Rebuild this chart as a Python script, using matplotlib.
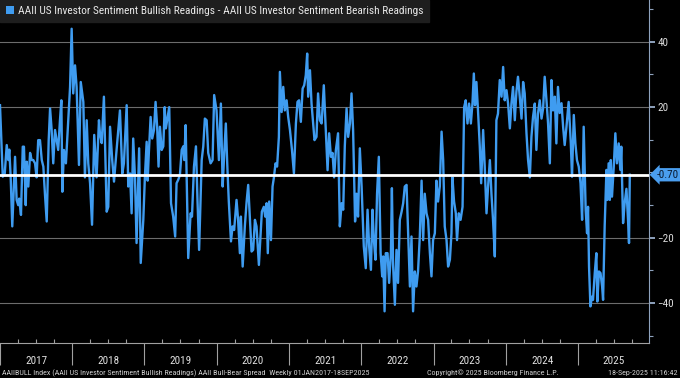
import matplotlib
matplotlib.use("Agg")
import matplotlib.pyplot as plt
import matplotlib.dates as mdates
import matplotlib.transforms as mtransforms
from matplotlib.patches import Patch
from matplotlib import font_manager
import pandas as pd

# weekly AAII bull-bear spread (days since 1 Jan 2017, spread in pts)
start = pd.Timestamp("2017-01-01")
day_offsets = [
    0, 14, 24, 34, 42, 47, 54, 62, 76, 84, 92, 97, 106, 115, 121, 130, 135, 143, 152, 160,
    168, 177, 185, 193, 202, 211, 219, 227, 236, 246, 253, 261, 269, 278, 286, 294, 303, 310, 315, 323,
    333, 345, 354, 362, 370, 379, 387, 399, 408, 421, 429, 438, 446, 455, 465, 476, 488, 500, 505, 514,
    525, 539, 547, 556, 567, 576, 589, 606, 618, 626, 640, 648, 657, 665, 673, 682, 690, 703, 711, 724,
    732, 741, 746, 752, 761, 769, 778, 786, 794, 801, 808, 817, 825, 832, 838, 847, 855, 864, 875, 885,
    892, 900, 909, 918, 926, 931, 938, 946, 951, 963, 970, 980, 990, 998, 1006, 1019, 1027, 1035, 1044, 1052,
    1064, 1074, 1082, 1094, 1106, 1116, 1125, 1133, 1141, 1148, 1156, 1167, 1175, 1183, 1195, 1203, 1212, 1217, 1226, 1237,
    1246, 1254, 1263, 1271, 1279, 1288, 1296, 1308, 1317, 1323, 1333, 1340, 1347, 1353, 1360, 1369, 1377, 1384, 1392, 1400,
    1409, 1414, 1423, 1431, 1439, 1448, 1456, 1465, 1475, 1485, 1495, 1503, 1511, 1520, 1529, 1537, 1545, 1552, 1557, 1566,
    1574, 1582, 1589, 1599, 1607, 1616, 1625, 1636, 1646, 1655, 1663, 1672, 1680, 1688, 1697, 1708, 1717, 1726, 1734, 1742,
    1751, 1759, 1768, 1776, 1784, 1794, 1801, 1809, 1818, 1827, 1838, 1848, 1857, 1865, 1874, 1882, 1889, 1897, 1905, 1914,
    1923, 1931, 1936, 1943, 1949, 1958, 1966, 1975, 1980, 1986, 1995, 2003, 2011, 2020, 2029, 2037, 2045, 2054, 2062, 2071,
    2079, 2087, 2096, 2104, 2112, 2121, 2130, 2138, 2146, 2155, 2163, 2172, 2180, 2188, 2197, 2205, 2213, 2222, 2231, 2239,
    2247, 2256, 2264, 2273, 2281, 2286, 2294, 2303, 2309, 2318, 2327, 2337, 2345, 2353, 2362, 2370, 2379, 2387, 2394, 2400,
    2407, 2415, 2424, 2431, 2441, 2449, 2458, 2466, 2475, 2483, 2491, 2500, 2508, 2516, 2525, 2534, 2542, 2550, 2559, 2567,
    2576, 2584, 2592, 2601, 2609, 2617, 2626, 2635, 2643, 2651, 2660, 2668, 2677, 2685, 2693, 2702, 2710, 2718, 2727, 2736,
    2744, 2752, 2761, 2769, 2778, 2786, 2794, 2803, 2811, 2819, 2828, 2837, 2845, 2853, 2862, 2873, 2884, 2890, 2899, 2907,
    2915, 2924, 2933, 2941, 2949, 2959, 2966, 2971, 2976, 2983, 2991, 2996, 3005, 3013, 3018, 3026, 3034, 3042, 3047, 3055,
    3064, 3069, 3075, 3081, 3086, 3092, 3101, 3109, 3117, 3126, 3134, 3139, 3148, 3156, 3165, 3173, 3178, 3182,
]
spread = [
    20.6, -1.3, -0.3, 8.4, 3.8, 7.0, -1.5, -16.5, 4.8, -8.4, -10.0, -8.0, -13.0, 7.9, 7.9, -10.0, 3.3, -4.3, 6.0, 3.8,
    3.8, 2.8, -1.5, 9.9, 9.9, 3.8, 1.8, -6.5, -15.0, 9.9, 19.6, 13.0, 2.8, 13.0, 9.9, 6.9, 16.0, 22.1, -5.9, 6.9,
    2.8, 16.0, 26.2, 44.0, 24.2, 32.8, 26.2, 2.3, 27.7, 21.6, -1.5, 16.0, 2.8, -3.3, -16.0, 11.5, -1.5, 16.0, 12.0, 9.0,
    23.2, -12.0, -10.5, 14.0, 3.8, -2.8, 6.9, 19.0, -0.3, 2.8, 20.6, -4.3, -0.3, -12.5, 10.4, -1.5, -21.6, 7.4, -27.7, -14.5,
    -1.5, 9.4, -2.5, 6.0, 17.0, 10.4, 13.0, 21.6, 14.0, 1.8, 14.0, 6.9, 8.0, 20.0, 13.5, 17.0, 20.0, -9.4, -13.5, -19.6,
    -3.3, -2.3, -0.8, 6.9, 8.0, 3.8, 14.5, -10.5, -26.2, -12.5, -13.5, 1.8, 8.0, -8.9, -23.7, 3.8, 8.0, 16.5, 16.0, 6.0,
    2.8, 3.8, 23.7, 19.0, 3.8, 21.1, -4.3, 6.0, 15.0, 2.8, -8.9, -21.1, -16.5, -17.6, -8.4, -14.5, -24.7, -13.5, -28.8, -16.5,
    -8.9, -3.8, -14.5, -24.2, -23.7, -14.5, -16.5, -28.3, -18.6, -12.0, -10.5, -13.5, -9.4, -24.7, -8.9, -20.7, -4.3, -1.5, 2.8, 1.8,
    10.9, 30.8, 18.5, 26.2, 19.0, 22.1, 17.0, 13.0, 7.0, -0.3, 15.0, 21.6, 22.1, 15.5, 25.7, 26.7, 29.8, 36.4, 23.2, 31.3,
    21.1, 15.0, 9.9, 10.9, 24.2, 16.0, 15.0, 26.7, 13.0, 0.7, 12.0, 4.8, 6.0, -1.5, 6.9, 12.0, -16.5, -9.4, -11.4, 8.0,
    19.6, 10.9, 15.0, 24.2, 13.0, -15.0, -6.5, -13.5, 7.4, -4.3, -22.6, -29.3, -11.4, -22.6, -29.8, -11.4, -20.7, -26.7, -6.5, 4.8,
    -24.7, -31.8, -25.7, -42.5, -24.7, -24.7, -33.8, -24.7, -4.8, -28.3, -40.5, -23.7, -33.8, -14.5, -12.0, -9.4, -4.3, -3.8, -18.6, -34.9,
    -19.6, -42.5, -30.3, -34.9, -30.3, -19.6, -2.5, -20.7, -6.5, -12.5, -14.5, -24.7, -31.8, -20.7, -18.6, -2.5, -8.9, -4.3, 12.5, 3.8,
    -16.5, -20.7, -28.8, -26.7, -18.6, -1.5, -8.9, -12.5, -20.7, -12.5, -14.5, -10.5, 20.0, 22.1, 15.0, 21.1, 15.0, 21.1, 30.3, 20.6,
    27.7, 19.0, 8.0, -3.3, 13.0, 1.8, -12.5, -4.3, 3.8, -6.5, -14.5, -25.7, 16.0, 18.0, 28.3, 23.2, 32.3, 22.1, 25.2, 21.1,
    13.5, 21.1, 26.2, 16.0, 24.7, 29.3, 23.2, 16.5, 27.7, 24.2, 12.0, 3.8, -1.5, 10.9, 17.0, 21.1, 6.9, 18.0, 22.1, 16.5,
    19.6, 29.3, 22.1, 15.0, 2.8, 28.3, 19.0, 23.2, 8.9, 26.2, 18.2, 21.2, 14.0, 8.4, 14.0, 21.6, 8.9, -1.3, 17.6, 8.9,
    3.8, 1.8, -3.3, -14.5, 14.0, -11.4, -18.6, -10.5, -28.8, -41.0, -38.0, -39.0, -30.8, -24.7, -39.5, -30.3, -30.8, -34.8, -39.0, -16.5,
    0.8, -8.4, 2.8, -8.4, 3.8, -7.4, 1.8, 12.0, 2.8, 8.9, 0.8, 7.9, -15.5, -9.4, -5.0, -14.5, -21.6, -0.7,
]
last_value = -0.70
years = list(range(2017, 2026))
yticks_major = [-40, -20, 20, 40]
yticks_minor = [-50, -30, -10, 0, 10, 30, 50]

legend_text = "AAII US Investor Sentiment Bullish Readings - AAII US Investor Sentiment Bearish Readings"
footer_left = ("AAIIBULL Index (AAII US Investor Sentiment Bullish Readings) AAII Bull-Bear Spread  "
               "Weekly 01JAN2017-18SEP2025")
footer_mid = "Copyright\u00a9 2025 Bloomberg Finance L.P."
footer_right = "18-Sep-2025 11:16:42"

installed = {f.name for f in font_manager.fontManager.ttflist}
for fam in ["Liberation Sans Narrow", "Roboto Condensed", "Liberation Sans"]:
    if fam in installed:
        break
plt.rcParams["font.family"] = [fam, "DejaVu Sans"]

line_blue = "#3f9cf0"
dates = start + pd.to_timedelta(day_offsets, unit="D")
x_end = pd.Timestamp("2025-12-24")

fig = plt.figure(figsize=(6.8, 3.78), dpi=100, facecolor="black")
ax = fig.add_axes([0.0, 35 / 378, 649 / 680, 343 / 378])
ax.set_facecolor("black")

ax.plot(dates, spread, color=line_blue, lw=1.7, zorder=2)
ax.axhline(last_value, color="white", lw=2.0, zorder=3)

ax.set_xlim(start, x_end)
ax.set_ylim(-52.2, 52.8)

for s in ["left", "top"]:
    ax.spines[s].set_visible(False)
ax.spines["right"].set_color("#8ea2bd")
ax.spines["bottom"].set_color("#a0a0a0")

ax.yaxis.tick_right()
ax.set_yticks(yticks_major)
ax.set_yticks(yticks_minor, minor=True)
ax.grid(axis="y", which="major", color="#6c6c6c", lw=0.8, zorder=1)
ax.tick_params(axis="y", which="major", colors="#8ea2bd", labelcolor="#dcdcdc",
               direction="out", length=4, width=1.4, labelsize=8, pad=2)
ax.tick_params(axis="y", which="minor", colors="#8ea2bd", direction="out", length=3, width=0.8)

ax.xaxis.set_major_locator(mdates.YearLocator())
ax.xaxis.set_minor_locator(mdates.MonthLocator(bymonth=[4, 7, 10]))
ax.xaxis.set_major_formatter(plt.NullFormatter())
ax.tick_params(axis="x", which="major", colors="#a0a0a0", direction="out", length=16, width=0.8)
ax.tick_params(axis="x", which="minor", colors="#a0a0a0", direction="in", length=3, width=0.8)

# year labels centred in each (visible) year
trans = mtransforms.blended_transform_factory(ax.transData, ax.transAxes)
for yr in years:
    a = pd.Timestamp(f"{yr}-01-01")
    b = min(pd.Timestamp(f"{yr + 1}-01-01"), x_end)
    mid = a + (b - a) / 2
    ax.text(mid, -0.052, str(yr), transform=trans, ha="center", va="center",
            color="#e0e0e0", fontsize=8)

# last value tag on the right axis
ax.text(1.012, last_value, f"{last_value:.2f}",
        transform=mtransforms.blended_transform_factory(ax.transAxes, ax.transData),
        ha="left", va="center", color="#0a1a30", fontsize=8, zorder=5, clip_on=False,
        bbox=dict(boxstyle="larrow,pad=0.15", fc="#4a9eef", ec="none"))

leg = ax.legend(handles=[Patch(facecolor=line_blue, edgecolor="none")], labels=[legend_text],
                loc="upper left", bbox_to_anchor=(0, 1), borderaxespad=0, frameon=True,
                fancybox=False, facecolor="#1e1e1e", edgecolor="#1e1e1e", framealpha=1,
                handlelength=0.75, handleheight=0.75, handletextpad=0.35, borderpad=0.5,
                fontsize=8.2, labelcolor="#e8e8e8")

fig.text(2 / 680, 0.014, footer_left, color="#cfcfcf", fontsize=5.8, ha="left", va="center")
fig.text(427 / 680, 0.014, footer_mid, color="#cfcfcf", fontsize=5.8, ha="left", va="center")
fig.text(678 / 680, 0.014, footer_right, color="#cfcfcf", fontsize=5.8, ha="right", va="center")

fig.savefig("out.png", dpi=100, facecolor="black")
